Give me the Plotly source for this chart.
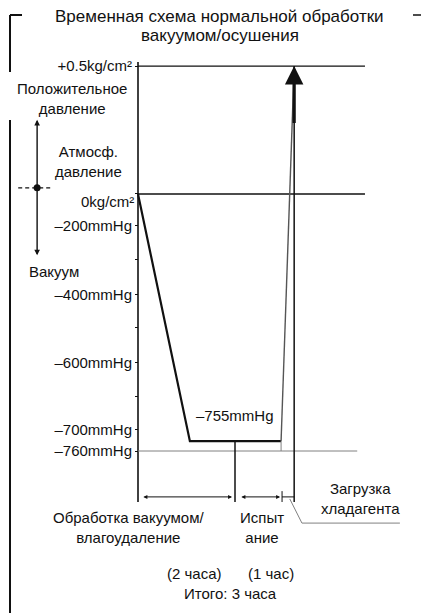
import plotly.graph_objects as go

W, H = 421, 613
FONT = "Liberation Sans, Arial, sans-serif"
INK = "#111111"
GREY = "#808080"

# Schematic pressure axis: each level sits on its own row (not to scale)
level_keys = ["+0.5kg", "-200", "-400", "-600", "-700", "-760"]
level_labels = ["+0.5kg/cm²", "–200mmHg", "–400mmHg", "–600mmHg", "–700mmHg", "–760mmHg"]
level_rows = [11.32, 6.62, 4.59, 2.59, 0.62, 0.0]
# unlabelled intermediate ticks and the atmospheric line
minor_keys = ["0kg", "-300", "-500", "-650"]
minor_rows = [7.56, 5.62, 3.62, 1.59]
zero_label = "0kg/cm²"
hold_label = "–755mmHg"
hold_row = 0.29

# Pressure/time profile: evacuate, hold, then charge refrigerant (hours)
profile_hours = [0.0, 1.07, 2.95, 3.22]
profile_keys = ["0kg", "hold", "hold", "+0.5kg"]

# Phase boundaries (hours)
vacuum_hours = 2
test_hours = 1
charge_hour = 3.22
line_end_hours = 4.68
vac_line_end_hours = 4.52

# Row of the bottom phase markers
base_row = -1.5
span_row = -1.35

ROW = dict(zip(level_keys + minor_keys, level_rows + minor_rows))
ROW["hold"] = hold_row
profile_rows = [ROW[k] for k in profile_keys]

# Axis scaling: pixels per hour / per row, with the pressure axis at x=138px
PX_HOUR, X0 = 48.5, 138
PX_ROW, Y0 = 34.0, 451
x_range = [-X0 / PX_HOUR, (W - X0) / PX_HOUR]
y_range = [-(H - Y0) / PX_ROW, Y0 / PX_ROW]

fig = go.Figure()


def seg(xs, ys, color=INK, width=1.5, dash=None):
    fig.add_trace(go.Scatter(x=xs, y=ys, mode="lines", hoverinfo="skip",
                             line=dict(color=color, width=width, dash=dash)))


# pressure axis line
seg([0, 0], [ROW["+0.5kg"] + 0.12, base_row], width=1.6)
# reference lines: +0.5 kg/cm2, 0 kg/cm2, -760 mmHg
seg([0, line_end_hours], [ROW["+0.5kg"]] * 2, width=1.4)
seg([0, line_end_hours], [ROW["0kg"]] * 2, width=1.4)
seg([0, vac_line_end_hours], [ROW["-760"]] * 2, color=GREY, width=1)

# profile: pull-down and hold
seg(profile_hours[:3], profile_rows[:3], width=2.2)
# rise during refrigerant charge
seg(profile_hours[2:], profile_rows[2:], color="#555555", width=1.4)
seg([profile_hours[2]] * 2, [hold_row, ROW["-760"]], color=GREY, width=1)

# phase boundary verticals
seg([vacuum_hours] * 2, [hold_row, base_row], width=1.5)
seg([charge_hour] * 2, [base_row, ROW["+0.5kg"]], width=1.5)

# phase span markers
test_end = vacuum_hours + test_hours - 0.03
seg([test_end] * 2, [span_row + 0.17, span_row - 0.15], width=1)
seg([test_end, charge_hour], [span_row] * 2, width=1)
# leader to the charging label
seg([3.13, 3.38, 5.40], [-1.41, -2.12, -2.12], color=GREY, width=1)

# atmospheric pressure marker on the left
atm_x, atm_row = -2.08, 7.74
seg([-2.47, -1.77], [atm_row] * 2, width=1.4, dash="4px,3px")
fig.add_trace(go.Scatter(x=[atm_x], y=[atm_row], mode="markers", hoverinfo="skip",
                         marker=dict(color=INK, size=7)))

annotations = []


def arrow(x, y, ax, ay, width=1, size=0.9, head=2, side="end"):
    annotations.append(dict(x=x, y=y, ax=ax, ay=ay, xref="x", yref="y",
                            axref="x", ayref="y", text="", showarrow=True,
                            arrowhead=head, startarrowhead=head, arrowsize=size,
                            startarrowsize=size, arrowwidth=width,
                            arrowcolor=INK, arrowside=side))


# charging arrow up to +0.5 kg/cm2
arrow(charge_hour, ROW["+0.5kg"], charge_hour, 9.6, width=3.2, size=1.15, head=2)
# duration spans
arrow(vacuum_hours - 0.06, span_row, 0.08, span_row, side="end+start", size=0.8)
arrow(test_end - 0.04, span_row, vacuum_hours + 0.1, span_row, side="end+start", size=0.8)
# positive / vacuum direction arrow
arrow(atm_x, 9.74, atm_x, 5.71, side="end+start", width=1.4, size=0.8)


def text(px, py, s, size=15, xanchor="center"):
    annotations.append(dict(x=px / W, y=1 - py / H, xref="paper", yref="paper",
                            text=s, showarrow=False, xanchor=xanchor,
                            yanchor="middle", align="center",
                            font=dict(family=FONT, size=size, color=INK)))


text(220, 17, "Временная схема нормальной обработки", size=17)
text(220, 36, "вакуумом/осушения", size=17)
text(72, 98, "Положительное<br>давление")
text(88, 161, "Атмосф.<br>давление")
text(136, 202, zero_label, xanchor="right")
text(54, 271, "Вакуум")
text(360, 498, "Загрузка<br>хладагента")
text(128, 527, "Обработка вакуумом/<br>влагоудаление")
text(262, 527, "Испыт<br>ание")
text(194, 573, "(2 часа)")
text(271, 573, "(1 час)")
text(230, 593, "Итого: 3 часа")

# hold level label
annotations.append(dict(x=(profile_hours[1] + profile_hours[2]) / 2, y=hold_row,
                        xref="x", yref="y", text=hold_label, showarrow=False,
                        yshift=26, font=dict(family=FONT, size=15, color=INK)))


def pline(x0, y0, x1, y1, width=2):
    return dict(type="line", xref="paper", yref="paper",
                x0=x0 / W, y0=1 - y0 / H, x1=x1 / W, y1=1 - y1 / H,
                line=dict(color=INK, width=width))


shapes = [
    pline(22, 15, 10, 15), pline(10, 15, 10, 72),
    pline(10, 120, 10, H), pline(413, 15, 421, 15, width=1.5),
]

fig.update_layout(
    width=W, height=H, margin=dict(l=0, r=0, t=0, b=0),
    paper_bgcolor="white", plot_bgcolor="white", showlegend=False,
    xaxis=dict(range=x_range, visible=False, fixedrange=True),
    yaxis=dict(range=y_range, anchor="free", position=X0 / W, showline=False,
               showgrid=False, zeroline=False, ticks="outside", ticklen=3,
               tickwidth=1, tickcolor=INK, tickvals=level_rows, ticktext=level_labels,
               tickfont=dict(family=FONT, size=15, color=INK), automargin=False,
               minor=dict(tickvals=minor_rows, ticks="outside", ticklen=3,
                          tickwidth=1, tickcolor=INK, showgrid=False),
               fixedrange=True),
    annotations=annotations, shapes=shapes,
)

fig.write_html("out.html", config={"displayModeBar": False})
